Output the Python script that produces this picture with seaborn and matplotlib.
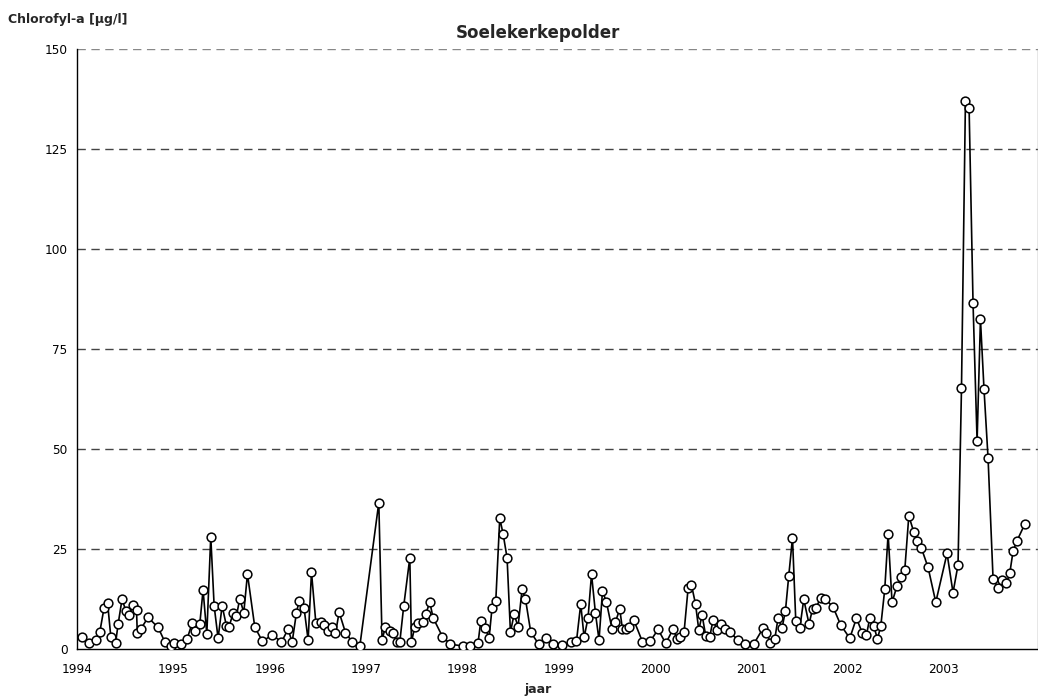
import matplotlib
matplotlib.use("Agg")
import matplotlib.pyplot as plt
import seaborn as sns
import pandas as pd
from matplotlib.ticker import MultipleLocator

# decimal year of each sample
dates = [
    1994.044, 1994.123, 1994.199, 1994.234, 1994.278, 1994.314, 1994.348, 1994.397, 1994.424, 1994.465,
    1994.504, 1994.538, 1994.579, 1994.615, 1994.623, 1994.659, 1994.735, 1994.839, 1994.909, 1994.968,
    1995.005, 1995.075, 1995.140, 1995.192, 1995.227, 1995.272, 1995.306, 1995.345, 1995.386, 1995.421,
    1995.462, 1995.504, 1995.549, 1995.573, 1995.618, 1995.653, 1995.687, 1995.729, 1995.767, 1995.843,
    1995.923, 1996.027, 1996.120, 1996.189, 1996.231, 1996.276, 1996.303, 1996.355, 1996.397, 1996.432,
    1996.477, 1996.529, 1996.563, 1996.604, 1996.646, 1996.681, 1996.719, 1996.785, 1996.854, 1996.934,
    1997.131, 1997.165, 1997.200, 1997.245, 1997.279, 1997.315, 1997.349, 1997.390, 1997.453, 1997.470,
    1997.505, 1997.539, 1997.585, 1997.619, 1997.660, 1997.695, 1997.792, 1997.875, 1998.006, 1998.083,
    1998.162, 1998.190, 1998.239, 1998.276, 1998.307, 1998.346, 1998.387, 1998.422, 1998.463, 1998.498,
    1998.536, 1998.577, 1998.619, 1998.654, 1998.709, 1998.792, 1998.865, 1998.941, 1999.034, 1999.132,
    1999.184, 1999.228, 1999.263, 1999.304, 1999.340, 1999.381, 1999.418, 1999.454, 1999.495, 1999.553,
    1999.589, 1999.633, 1999.661, 1999.703, 1999.727, 1999.779, 1999.869, 1999.952, 2000.031, 2000.111,
    2000.187, 2000.229, 2000.264, 2000.301, 2000.343, 2000.378, 2000.420, 2000.454, 2000.488, 2000.526,
    2000.568, 2000.602, 2000.644, 2000.682, 2000.724, 2000.783, 2000.856, 2000.939, 2001.025, 2001.121,
    2001.157, 2001.198, 2001.243, 2001.277, 2001.319, 2001.354, 2001.388, 2001.427, 2001.461, 2001.503,
    2001.544, 2001.599, 2001.635, 2001.669, 2001.718, 2001.769, 2001.848, 2001.928, 2002.022, 2002.091,
    2002.154, 2002.195, 2002.229, 2002.271, 2002.309, 2002.344, 2002.385, 2002.420, 2002.461, 2002.513,
    2002.559, 2002.593, 2002.635, 2002.686, 2002.721, 2002.766, 2002.835, 2002.915, 2003.032, 2003.094,
    2003.146, 2003.182, 2003.223, 2003.261, 2003.302, 2003.344, 2003.379, 2003.416, 2003.458, 2003.510,
    2003.561, 2003.603, 2003.649, 2003.683, 2003.718, 2003.759, 2003.839,
]

chlorofyl = [
    3.1, 1.6, 2.25, 4.3, 10.3, 11.6, 3.1, 1.4, 6.25, 12.5,
    9.5, 8.5, 11.0, 9.75, 3.9, 5.0, 7.9, 5.4, 1.8, 0.8,
    1.6, 1.25, 2.5, 6.4, 4.5, 6.25, 14.75, 3.75, 28.1, 10.8,
    2.7, 10.8, 5.75, 5.4, 8.9, 8.3, 12.6, 9.1, 18.75, 5.5,
    1.9, 3.6, 1.7, 5.0, 1.7, 9.1, 12.0, 10.2, 2.25, 19.2,
    6.6, 6.8, 6.0, 4.6, 5.4, 3.9, 9.2, 4.1, 1.8, 0.75,
    36.6, 2.25, 5.6, 4.6, 4.1, 1.7, 1.7, 10.8, 22.8, 1.75,
    5.6, 6.4, 6.8, 8.7, 11.75, 7.8, 3.1, 1.2, 0.75, 0.75,
    1.6, 7.0, 5.2, 2.7, 10.3, 12.1, 32.7, 28.75, 22.8, 4.2,
    8.7, 5.6, 14.9, 12.5, 4.2, 1.2, 2.7, 1.25, 1.0, 1.7,
    2.0, 11.25, 2.9, 7.8, 18.75, 8.9, 2.25, 14.5, 11.7, 5.0,
    6.8, 10.0, 5.0, 5.0, 5.6, 7.25, 1.8, 2.0, 4.9, 1.4,
    5.0, 2.5, 2.9, 4.2, 15.2, 16.0, 11.25, 4.75, 8.5, 3.3,
    3.1, 7.25, 4.75, 6.25, 4.9, 4.2, 2.25, 1.25, 1.25, 5.2,
    4.1, 1.6, 2.5, 7.7, 5.3, 9.6, 18.25, 27.8, 7.1, 5.3,
    12.4, 6.25, 10.0, 10.2, 12.7, 12.5, 10.5, 6.0, 2.7, 7.7,
    3.9, 3.5, 7.7, 5.8, 2.5, 5.75, 14.9, 28.75, 11.7, 15.8,
    17.9, 19.75, 33.3, 29.3, 26.9, 25.2, 20.4, 11.7, 23.9, 14.1,
    21.0, 65.2, 137.1, 135.3, 86.4, 52.0, 82.4, 64.9, 47.7, 17.5,
    15.3, 17.25, 16.4, 18.9, 24.5, 27.1, 31.2,
]

year_ticks = list(range(1994, 2004))
y_ticks = [0, 25, 50, 75, 100, 125, 150]

title = "Soelekerkepolder"
y_label = "Chlorofyl-a [µg/l]"
x_label = "jaar"

df = pd.DataFrame({"jaar": dates, "chl": chlorofyl})

sns.set_style("white")
plt.rcParams["font.family"] = ["DejaVu Sans"]

fig = plt.figure(figsize=(10.38, 6.99), dpi=100)
ax = fig.add_axes([0.07447, 0.0715, 0.9252, 0.8584])

sns.lineplot(data=df, x="jaar", y="chl", ax=ax, color="black", linewidth=1.2,
             marker="o", markersize=6.3, markerfacecolor="white",
             markeredgecolor="black", markeredgewidth=1.1, zorder=3)

ax.set_xlim(1994, 2003.973)
ax.set_ylim(0, 150)
ax.set_xticks(year_ticks)
ax.set_xticklabels([str(y) for y in year_ticks])
ax.set_yticks(y_ticks)
ax.set_yticklabels([str(v) for v in y_ticks])
ax.yaxis.set_minor_locator(MultipleLocator(5))

for v in y_ticks[1:]:
    ax.axhline(v, color="#444444" if v < 150 else "#888888", linestyle=(0, (6, 4)),
               linewidth=1.0, zorder=1)

ax.tick_params(axis="both", which="major", direction="in", length=5, width=1,
               labelsize=8.7, colors="black")
ax.tick_params(axis="y", which="major", pad=7)
ax.tick_params(axis="y", which="minor", direction="in", length=3, width=1)
ax.tick_params(axis="x", which="major", pad=10)

for side in ["left", "bottom", "right"]:
    ax.spines[side].set_visible(True)
    ax.spines[side].set_color("black")
    ax.spines[side].set_linewidth(1.0)
ax.spines["right"].set_color("#888888")
ax.spines["top"].set_visible(False)

ax.set_xlabel("")
ax.set_ylabel("")
fig.text(0.5183, 0.953, title, ha="center", va="center", fontsize=12, fontweight="bold")
fig.text(0.008, 0.972, y_label, ha="left", va="center", fontsize=9, fontweight="bold")
fig.text(0.518, 0.013, x_label, ha="center", va="center", fontsize=9, fontweight="bold")

fig.savefig("out.png", dpi=100)
